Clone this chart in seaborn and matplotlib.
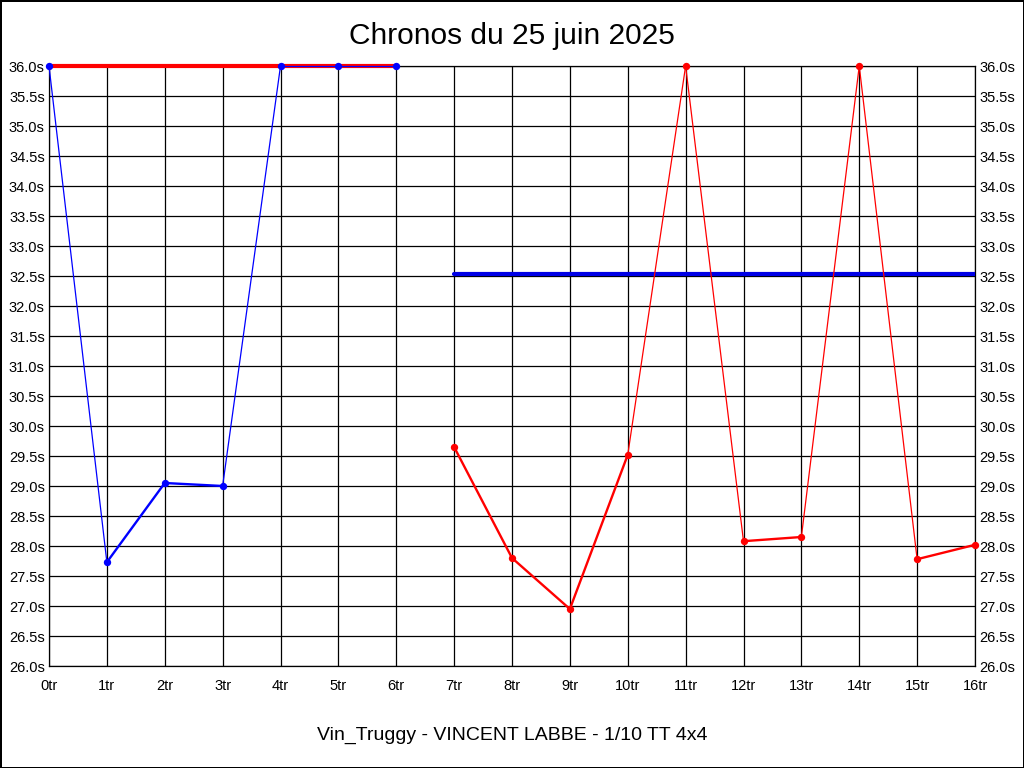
import matplotlib
matplotlib.use('Agg')
import matplotlib.pyplot as plt
import seaborn as sns
import pandas as pd

# tours et chronos (36.0s = valeur hors echelle)
blue_tours = [0, 1, 2, 3, 4, 5, 6]
blue_chronos = [36.0, 27.73, 29.05, 29.0, 36.0, 36.0, 36.0]
red_tours = [7, 8, 9, 10, 11, 12, 13, 14, 15, 16]
red_chronos = [29.65, 27.8, 26.95, 29.52, 36.0, 28.08, 28.15, 36.0, 27.78, 28.02]

# lignes de reference
red_ref_tours = [0, 6]
red_ref = [36.0, 36.0]
blue_ref_tours = [7, 16]
blue_ref = [32.53, 32.53]

hors_echelle = 36.0
y_ticks = [26.0 + 0.5 * i for i in range(21)]
x_ticks = list(range(17))
x_labels = [f'{t}tr' for t in x_ticks]

sns.set_style('white')
plt.rcParams['font.family'] = ['Liberation Sans', 'DejaVu Sans']

fig = plt.figure(figsize=(10.24, 7.68), dpi=100)
fig.patch.set_edgecolor('black')
fig.patch.set_linewidth(2)
ax = fig.add_axes([49 / 1024, 1 - 666 / 768, 926 / 1024, 600 / 768])

# references
sns.lineplot(x=red_ref_tours, y=red_ref, color='#ff0000', linewidth=3, ax=ax, clip_on=False, zorder=3)
sns.lineplot(x=blue_ref_tours, y=blue_ref, color='#0000e6', linewidth=3, ax=ax, zorder=3)


def trace(tours, chronos, couleur):
    for i in range(len(tours) - 1):
        a, b = chronos[i], chronos[i + 1]
        lw = 0.9 if (a == hors_echelle or b == hors_echelle) else 1.7
        sns.lineplot(x=tours[i:i + 2], y=chronos[i:i + 2], color=couleur,
                     linewidth=lw, ax=ax, clip_on=False, zorder=4)
    df = pd.DataFrame({'tour': tours, 'chrono': chronos})
    sns.scatterplot(data=df, x='tour', y='chrono', color=couleur, s=28,
                    edgecolor=couleur, linewidth=0, ax=ax, clip_on=False, zorder=5)


trace(blue_tours, blue_chronos, '#0000ff')
trace(red_tours, red_chronos, '#ff0000')

ax.set_xlim(0, 16)
ax.set_ylim(26, 36)
ax.set_xticks(x_ticks)
ax.set_xticklabels(x_labels)
ax.set_yticks(y_ticks)
ax.set_yticklabels([f'{v:.1f}s' for v in y_ticks])
ax.tick_params(axis='both', length=0, labelsize=10.5, colors='black')
ax.tick_params(axis='x', pad=9)
ax.tick_params(axis='y', labelright=True, right=False, pad=3)
ax.grid(True, color='black', linewidth=0.9)
ax.set_axisbelow(True)
for sp in ax.spines.values():
    sp.set_color('black')
    sp.set_linewidth(0.9)
ax.set_xlabel('')
ax.set_ylabel('')

fig.text(0.5, 0.953, 'Chronos du 25 juin 2025', ha='center', va='center', fontsize=21.5, color='black')
fig.text(0.5, 0.043, 'Vin_Truggy - VINCENT LABBE - 1/10 TT 4x4', ha='center', va='center', fontsize=14, color='black')

fig.savefig('out.png', dpi=100)
